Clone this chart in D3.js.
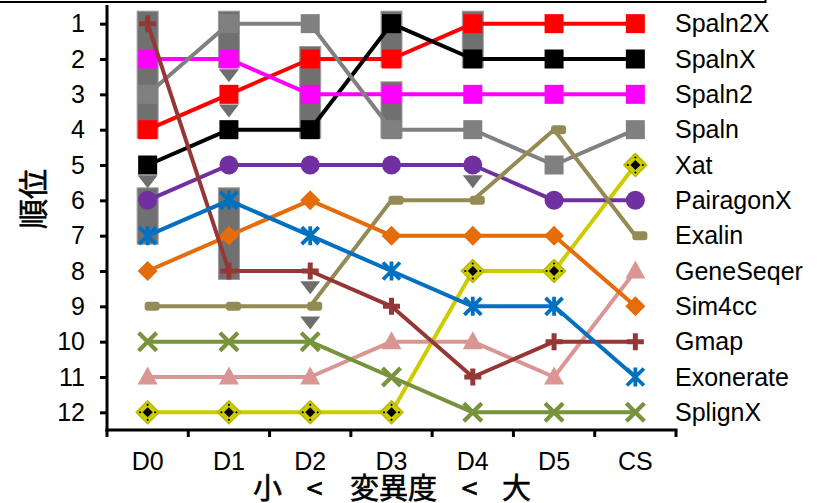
<!DOCTYPE html>
<html>
<head>
<meta charset="utf-8">
<script src="https://cdn.jsdelivr.net/npm/d3@7"></script>
<style>
  html, body { margin: 0; padding: 0; background: #fff; }
  svg { display: block; }
</style>
</head>
<body>
<svg id="chart" width="825" height="503"></svg>
<script>
// ---------- DATA ----------
const categories = ["D0", "D1", "D2", "D3", "D4", "D5", "CS"];
const seriesNames = ["Spaln2X", "SpalnX", "Spaln2", "Spaln", "Xat", "PairagonX",
                     "Exalin", "GeneSeqer", "Sim4cc", "Gmap", "Exonerate", "SplignX"];
const spaln2X   = [4, 3, 2, 2, 1, 1, 1];
const spalnX    = [5, 4, 4, 1, 2, 2, 2];
const spaln2    = [2, 2, 3, 3, 3, 3, 3];
const spaln     = [3, 1, 1, 4, 4, 5, 4];
const xat       = [12, 12, 12, 12, 8, 8, 5];
const pairagonX = [6, 5, 5, 5, 5, 6, 6];
const exalin    = [9, 9, 9, 6, 6, 4, 7];
const geneSeqer = [11, 11, 11, 10, 10, 11, 8];
const sim4cc    = [8, 7, 6, 7, 7, 7, 9];
const gmap      = [1, 8, 8, 9, 11, 10, 10];
const exonerate = [7, 6, 7, 8, 9, 9, 11];
const splignX   = [10, 10, 10, 11, 12, 12, 12];
const seriesValues = [spaln2X, spalnX, spaln2, spaln, xat, pairagonX,
                      exalin, geneSeqer, sim4cc, gmap, exonerate, splignX];
const rankTicks = [1, 2, 3, 4, 5, 6, 7, 8, 9, 10, 11, 12];
// groups of ranks that are not significantly different (gray bars)
const groupCats  = ["D0", "D0", "D1", "D1", "D2", "D3", "D3", "D4"];
const groupFrom  = [1, 6, 1, 6, 2, 1, 3, 1];
const groupTo    = [4, 7, 2, 8, 4, 2, 4, 2];
// significant gaps (gray triangles)
const gapCats = ["D0", "D1", "D1", "D2", "D2", "D4"];
const gapAt   = [5.5, 2.5, 3.5, 8.5, 9.5, 5.5];
const yTitle = "順位";
const xTitleParts = ["小", "<", "変異度", "<", "大"];

// ---------- STYLES ----------
const styles = {
  "Spaln2X":   {color: "#FF0000", marker: "square"},
  "SpalnX":    {color: "#000000", marker: "square"},
  "Spaln2":    {color: "#FF00FF", marker: "square"},
  "Spaln":     {color: "#808080", marker: "square"},
  "Xat":       {color: "#CCCC00", marker: "xat"},
  "PairagonX": {color: "#7030A0", marker: "circle"},
  "Exalin":    {color: "#948A54", marker: "dash"},
  "GeneSeqer": {color: "#DA9694", marker: "triangle"},
  "Sim4cc":    {color: "#E46C0A", marker: "diamond"},
  "Gmap":      {color: "#953735", marker: "plus"},
  "Exonerate": {color: "#0070C0", marker: "star"},
  "SplignX":   {color: "#77933C", marker: "x"}
};
const latin = "'Liberation Sans', Arial, sans-serif";
const cjk = "'Noto Sans CJK JP', 'Noto Sans CJK SC', sans-serif";

// ---------- SCALES ----------
const svg = d3.select("#chart");
const x = d3.scaleBand().domain(categories).range([107, 676]);
const cx = c => x(c) + x.bandwidth() / 2;
const y = d3.scaleLinear().domain([0.5, 12.5]).range([6, 430]);

// top frame fragment
svg.append("path").attr("d", "M0,2H765.5V0").attr("fill", "none")
  .attr("stroke", "#000").attr("stroke-width", 2);

// ---------- GROUP BARS ----------
const bars = groupCats.map((c, i) => ({c, from: groupFrom[i], to: groupTo[i]}));
svg.append("g").selectAll("rect").data(bars).join("rect")
  .attr("x", d => cx(d.c) - 10.5)
  .attr("width", 21)
  .attr("y", d => y(d.from) - 12.5)
  .attr("height", d => y(d.to) - y(d.from) + 21)
  .attr("fill", "#707070")
  .attr("stroke", "#9c9c9c")
  .attr("stroke-width", 1);

const gaps = gapCats.map((c, i) => ({c, at: gapAt[i]}));
svg.append("g").selectAll("path").data(gaps).join("path")
  .attr("transform", d => `translate(${cx(d.c)},${y(d.at) - 1})`)
  .attr("d", "M-10,-6.5L10,-6.5L0,6.5Z")
  .attr("fill", "#6e6e6e");

// ---------- SERIES ----------
const line = d3.line().x((d, i) => cx(categories[i])).y(d => y(d));

function drawMarker(g, type, color) {
  switch (type) {
    case "square":
      g.append("rect").attr("x", -9.5).attr("y", -9.5).attr("width", 19).attr("height", 19).attr("fill", color);
      break;
    case "circle":
      g.append("circle").attr("r", 9.5).attr("fill", color);
      break;
    case "diamond":
      g.append("path").attr("d", "M0,-10L10,0L0,10L-10,0Z").attr("fill", color);
      break;
    case "xat":
      g.append("path").attr("d", "M0,-11.5L11.5,0L0,11.5L-11.5,0Z").attr("fill", color)
        .attr("stroke", "#b8b800").attr("stroke-width", 1.5).attr("stroke-linejoin", "round");
      g.append("path").attr("d", "M0,-5L5,0L0,5L-5,0Z").attr("fill", "#000");
      [[0, -7.5], [0, 7.5], [-7.5, 0], [7.5, 0]].forEach(p =>
        g.append("circle").attr("cx", p[0]).attr("cy", p[1]).attr("r", 1.1).attr("fill", "#000"));
      break;
    case "dash":
      g.append("rect").attr("x", -3).attr("y", -4.5).attr("width", 15).attr("height", 9)
        .attr("rx", 3).attr("fill", color);
      break;
    case "triangle":
      g.append("path").attr("d", "M0,-10.5L10,7.5L-10,7.5Z").attr("fill", color);
      break;
    case "plus":
      g.append("path").attr("d", "M-8.5,0H8.5M0,-8.5V8.5").attr("stroke", color).attr("stroke-width", 5);
      break;
    case "star":
      g.append("path").attr("d", "M-8.5,-8.5L8.5,8.5M-8.5,8.5L8.5,-8.5M0,-9.5V9.5").attr("stroke", color).attr("stroke-width", 3.8);
      break;
    case "x":
      g.append("path").attr("d", "M-9,-9L9,9M-9,9L9,-9").attr("stroke", color).attr("stroke-width", 4.2);
      break;
  }
}

seriesNames.forEach((name, si) => {
  const st = styles[name];
  const vals = seriesValues[si];
  const g = svg.append("g");
  g.append("path").datum(vals).attr("d", line)
    .attr("fill", "none").attr("stroke", st.color).attr("stroke-width", 4)
    .attr("stroke-linejoin", "round");
  vals.forEach((v, i) => {
    const mg = g.append("g").attr("transform", `translate(${cx(categories[i])},${y(v)})`);
    drawMarker(mg, st.marker, st.color);
  });
});

// ---------- AXES ----------
const yAxis = svg.append("g").attr("transform", "translate(107,0)")
  .call(d3.axisLeft(y).tickValues(rankTicks).tickSize(7).tickSizeOuter(0).tickPadding(15));
yAxis.select(".domain").attr("stroke-width", 3).attr("d", "M0,5V431.5");
yAxis.selectAll(".tick line").attr("stroke-width", 3);
yAxis.selectAll(".tick text").attr("font-family", latin).attr("font-size", 25).attr("fill", "#000");

const xAxisG = svg.append("g");
xAxisG.append("line").attr("x1", 105.5).attr("x2", 677.5).attr("y1", 430).attr("y2", 430)
  .attr("stroke", "#000").attr("stroke-width", 3);
const boundaries = categories.map(c => x(c)).concat([x.range()[1]]);
xAxisG.selectAll("line.tk").data(boundaries).join("line").attr("class", "tk")
  .attr("x1", d => d).attr("x2", d => d).attr("y1", 430).attr("y2", 437)
  .attr("stroke", "#000").attr("stroke-width", 3);
xAxisG.selectAll("text").data(categories).join("text")
  .attr("x", d => cx(d)).attr("y", 470).attr("text-anchor", "middle")
  .attr("font-family", latin).attr("font-size", 25).text(d => d);

// ---------- LEGEND LABELS (at CS rank) ----------
svg.append("g").selectAll("text").data(seriesNames).join("text")
  .attr("x", 675).attr("y", (d, i) => y(seriesValues[i][6])).attr("dy", "0.35em")
  .attr("font-family", latin).attr("font-size", 25).text(d => d);

// ---------- TITLES ----------
svg.append("text").attr("transform", "translate(44,199) rotate(-90)")
  .attr("text-anchor", "middle").attr("font-family", cjk).attr("font-size", 30)
  .attr("stroke", "#000").attr("stroke-width", 0.6)
  .text(yTitle);

const xTitleCenters = [267.5, 314.5, 393.5, 469.5, 516.5];
svg.append("g").selectAll("text").data(xTitleParts).join("text")
  .attr("x", (d, i) => xTitleCenters[i]).attr("y", 499).attr("text-anchor", "middle")
  .attr("font-family", cjk).attr("font-size", 29)
  .attr("stroke", "#000").attr("stroke-width", 0.6)
  .text(d => d);
</script>
</body>
</html>
